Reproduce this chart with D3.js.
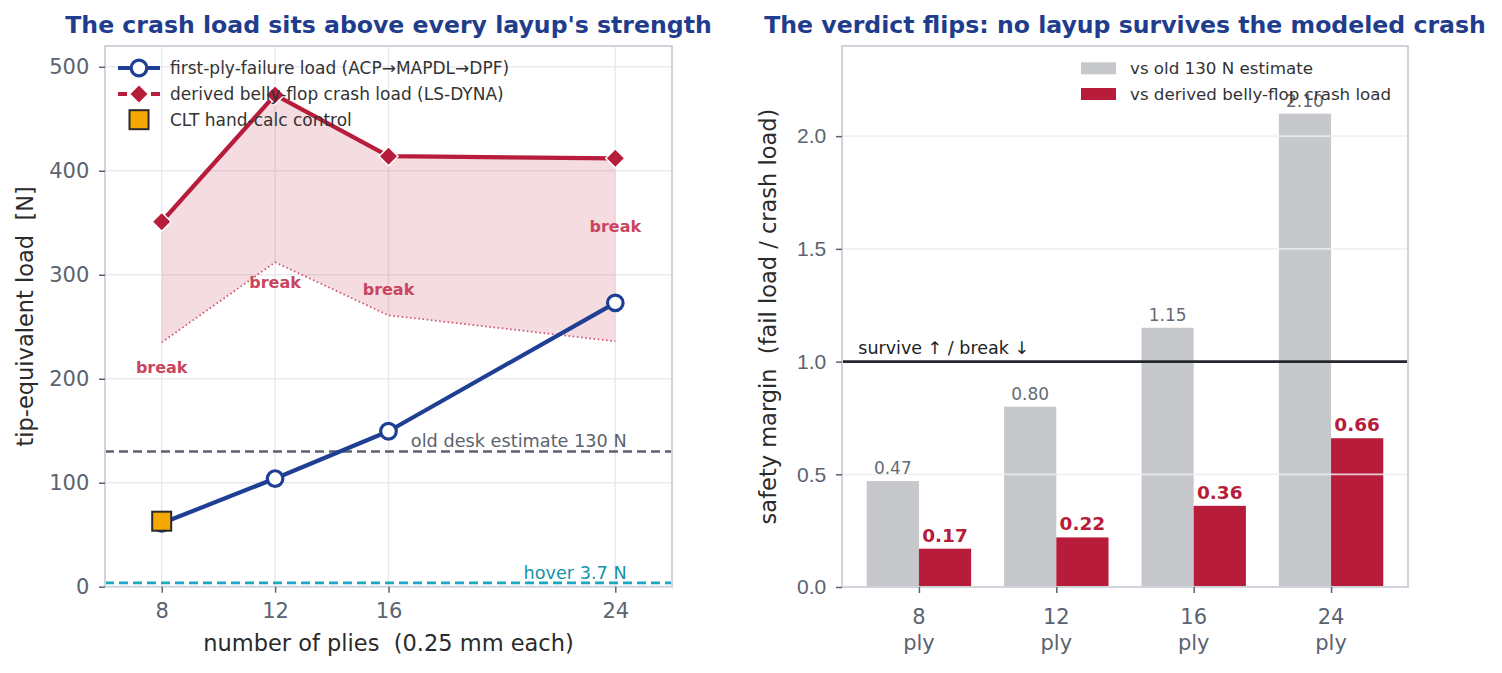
<!DOCTYPE html>
<html><head><meta charset="utf-8">
<script src="https://cdn.jsdelivr.net/npm/d3@7"></script>
<style>
body{margin:0;background:#fff}
svg{display:block;font-family:"DejaVu Sans",sans-serif}
text{white-space:pre}
</style>
</head><body>
<svg id="chart" width="1502" height="673"></svg>
<script>
// ---------- data ----------
const plies = [8, 12, 16, 24];
const fpfLoad = [61, 104, 149.5, 273];          // first-ply-failure load [N]
const crashLoad = [351, 473, 414, 412];         // derived belly-flop crash load [N]
const crashLower = [235, 312, 261, 236];        // lower edge of crash band [N]
const cltPly = [8];
const cltLoad = [63];                           // CLT hand-calc control [N]
const deskEstimate = 130;
const hoverLoad = 3.7;
const leftYTicks = [0, 100, 200, 300, 400, 500];
const leftXTicks = [8, 12, 16, 24];

const layupNames = ["8", "12", "16", "24"];
const marginOld = [0.47, 0.80, 1.15, 2.10];
const marginCrash = [0.17, 0.22, 0.36, 0.66];
const rightYTicks = [0, 0.5, 1.0, 1.5, 2.0];

// ---------- styles ----------
const C = {
  title: "#1f3d8c", blue: "#1f3f95", red: "#b81c3b", breakTxt: "#c8465f",
  dotted: "#d05a74", fill: "rgba(190,40,70,0.16)", grid: "#e8ebee",
  spine: "#d0d4da", tick: "#5b6370", axisLbl: "#2a2a2a", desk: "#5c636e",
  hover: "#1aa7c1", hoverTxt: "#1792ab", orange: "#f5a800", gray: "#c6c8cb",
  grayTxt: "#666b73"
};

const svg = d3.select("#chart");

// ================= LEFT PANEL =================
const L = {x0: 105, x1: 672, y0: 46, y1: 586.7};
const xL = d3.scaleLinear().domain([6, 26]).range([L.x0, L.x1]);
const yL = d3.scaleLinear().domain([0, 520]).range([L.y1, L.y0]);
const gL = svg.append("g");

// grid
gL.selectAll(".vg").data(leftXTicks).join("line")
  .attr("x1", d => xL(d)).attr("x2", d => xL(d)).attr("y1", L.y0).attr("y2", L.y1)
  .attr("stroke", C.grid).attr("stroke-width", 1.5);
gL.selectAll(".hg").data(leftYTicks.filter(d => d > 0)).join("line")
  .attr("x1", L.x0).attr("x2", L.x1).attr("y1", d => yL(d)).attr("y2", d => yL(d))
  .attr("stroke", C.grid).attr("stroke-width", 1.5);

// band fill between lower edge and crash load
const bandData = plies.map((p, i) => ({p, lo: crashLower[i], hi: crashLoad[i]}));
gL.append("path").datum(bandData)
  .attr("d", d3.area().x(d => xL(d.p)).y0(d => yL(d.lo)).y1(d => yL(d.hi)))
  .attr("fill", C.fill);
gL.append("path").datum(bandData)
  .attr("d", d3.line().x(d => xL(d.p)).y(d => yL(d.lo)))
  .attr("fill", "none").attr("stroke", C.dotted).attr("stroke-width", 1.8)
  .attr("stroke-dasharray", "1.6,2.6");

// reference lines
gL.append("line").attr("x1", L.x0).attr("x2", L.x1)
  .attr("y1", yL(deskEstimate)).attr("y2", yL(deskEstimate))
  .attr("stroke", C.desk).attr("stroke-width", 2.6).attr("stroke-dasharray", "9,5");
gL.append("text").attr("x", 626.7).attr("y", yL(deskEstimate) - 5)
  .attr("text-anchor", "end").attr("font-size", 17.7).attr("fill", C.desk)
  .text("old desk estimate " + deskEstimate + " N");
gL.append("line").attr("x1", L.x0).attr("x2", L.x1)
  .attr("y1", yL(hoverLoad)).attr("y2", yL(hoverLoad))
  .attr("stroke", C.hover).attr("stroke-width", 2.6).attr("stroke-dasharray", "9,5");
gL.append("text").attr("x", 626.7).attr("y", yL(hoverLoad) - 3.5)
  .attr("text-anchor", "end").attr("font-size", 17.7).attr("fill", C.hoverTxt)
  .text("hover " + hoverLoad + " N");

// crash load line + diamonds
const crashPts = plies.map((p, i) => ({p, v: crashLoad[i]}));
gL.append("path").datum(crashPts)
  .attr("d", d3.line().x(d => xL(d.p)).y(d => yL(d.v)))
  .attr("fill", "none").attr("stroke", C.red).attr("stroke-width", 4.2)
  .attr("stroke-linejoin", "round");
const diamond = s => `M0,${-s}L${s},0L0,${s}L${-s},0Z`;
gL.selectAll(".dm").data(crashPts).join("path")
  .attr("transform", d => `translate(${xL(d.p)},${yL(d.v)})`)
  .attr("d", diamond(9.5)).attr("fill", C.red).attr("stroke", "#fff").attr("stroke-width", 1.5);

// FPF line + circles
const fpfPts = plies.map((p, i) => ({p, v: fpfLoad[i]}));
gL.append("path").datum(fpfPts)
  .attr("d", d3.line().x(d => xL(d.p)).y(d => yL(d.v)))
  .attr("fill", "none").attr("stroke", C.blue).attr("stroke-width", 4.2)
  .attr("stroke-linejoin", "round");
gL.selectAll(".ci").data(fpfPts).join("circle")
  .attr("cx", d => xL(d.p)).attr("cy", d => yL(d.v)).attr("r", 7.8)
  .attr("fill", "#fff").attr("stroke", C.blue).attr("stroke-width", 3.2);

// CLT control square
gL.selectAll(".sq").data(cltPly.map((p, i) => ({p, v: cltLoad[i]}))).join("rect")
  .attr("x", d => xL(d.p) - 9.5).attr("y", d => yL(d.v) - 9.5)
  .attr("width", 19).attr("height", 19)
  .attr("fill", C.orange).attr("stroke", "#2a2a2a").attr("stroke-width", 2);

// break labels at midpoint between strength and crash load
gL.selectAll(".br").data(plies.map((p, i) => ({p, m: (fpfLoad[i] + crashLoad[i]) / 2}))).join("text")
  .attr("x", d => xL(d.p)).attr("y", d => yL(d.m) + 1)
  .attr("text-anchor", "middle").attr("font-size", 16).attr("font-weight", "bold")
  .attr("fill", C.breakTxt).text("break");

// frame
gL.append("rect").attr("x", L.x0).attr("y", L.y0).attr("width", L.x1 - L.x0).attr("height", L.y1 - L.y0)
  .attr("fill", "none").attr("stroke", C.spine).attr("stroke-width", 2);

// axes
const axL = gL.append("g").attr("transform", `translate(${L.x0},0)`)
  .call(d3.axisLeft(yL).tickValues(leftYTicks).tickSize(6).tickPadding(9.7).tickSizeOuter(0));
const axB = gL.append("g").attr("transform", `translate(0,${L.y1})`)
  .call(d3.axisBottom(xL).tickValues(leftXTicks).tickSize(6).tickPadding(10).tickSizeOuter(0));
[axL, axB].forEach(a => {
  a.select(".domain").remove();
  a.selectAll(".tick line").attr("stroke", C.tick).attr("stroke-width", 1.5);
  a.selectAll(".tick text").attr("fill", C.tick).attr("font-size", 21)
    .attr("font-family", "DejaVu Sans");
});

// axis labels
gL.append("text").attr("transform", `translate(33,${(L.y0 + L.y1) / 2}) rotate(-90)`)
  .attr("text-anchor", "middle").attr("font-size", 22.5).attr("fill", C.axisLbl)
  .text("tip-equivalent load  [N]");
gL.append("text").attr("x", (L.x0 + L.x1) / 2).attr("y", 651)
  .attr("text-anchor", "middle").attr("font-size", 22.5).attr("fill", C.axisLbl)
  .text("number of plies  (0.25 mm each)");

// title
gL.append("text").attr("x", (L.x0 + L.x1) / 2).attr("y", 33)
  .attr("text-anchor", "middle").attr("font-size", 23.6).attr("font-weight", "bold")
  .attr("fill", C.title).text("The crash load sits above every layup's strength");

// legend
const lg = gL.append("g");
const lgRows = [74, 100, 125.7];
lg.append("line").attr("x1", 118).attr("x2", 160).attr("y1", lgRows[0] - 6).attr("y2", lgRows[0] - 6)
  .attr("stroke", C.blue).attr("stroke-width", 4.2);
lg.append("circle").attr("cx", 139).attr("cy", lgRows[0] - 6).attr("r", 7.8)
  .attr("fill", "#fff").attr("stroke", C.blue).attr("stroke-width", 3.2);
lg.append("line").attr("x1", 118).attr("x2", 160).attr("y1", lgRows[1] - 6).attr("y2", lgRows[1] - 6)
  .attr("stroke", C.red).attr("stroke-width", 4.2).attr("stroke-dasharray", "9,24,9");
lg.append("path").attr("transform", `translate(139,${lgRows[1] - 6})`).attr("d", diamond(9.5))
  .attr("fill", C.red).attr("stroke", "#fff").attr("stroke-width", 1.5);
lg.append("rect").attr("x", 129.5).attr("y", lgRows[2] - 6 - 9.5).attr("width", 19).attr("height", 19)
  .attr("fill", C.orange).attr("stroke", "#2a2a2a").attr("stroke-width", 2);
const lgText = ["first-ply-failure load (ACP\u2192MAPDL\u2192DPF)",
                "derived belly-flop crash load (LS-DYNA)", "CLT hand-calc control"];
lg.selectAll(".lt").data(lgText).join("text")
  .attr("x", 170).attr("y", (d, i) => lgRows[i]).attr("font-size", 17).attr("fill", "#333")
  .text(d => d);

// ================= RIGHT PANEL =================
const R = {x0: 842, x1: 1408, y0: 46, y1: 587};
const xR = d3.scaleLinear().domain([-0.56, 3.56]).range([R.x0, R.x1]);
const yR = d3.scaleLinear().domain([0, 2.4]).range([R.y1, R.y0]);
const gR = svg.append("g");
const bw = 0.38;

const idx = layupNames.map((_, i) => i);
gR.selectAll(".bo").data(idx).join("rect")
  .attr("x", i => xR(i - bw)).attr("width", i => xR(i) - xR(i - bw))
  .attr("y", i => yR(marginOld[i])).attr("height", i => yR(0) - yR(marginOld[i]))
  .attr("fill", C.gray);
gR.selectAll(".bc").data(idx).join("rect")
  .attr("x", i => xR(i)).attr("width", i => xR(i + bw) - xR(i))
  .attr("y", i => yR(marginCrash[i])).attr("height", i => yR(0) - yR(marginCrash[i]))
  .attr("fill", C.red);

// grid on top
gR.selectAll(".hg").data(rightYTicks.filter(d => d > 0)).join("line")
  .attr("x1", R.x0).attr("x2", R.x1).attr("y1", d => yR(d)).attr("y2", d => yR(d))
  .attr("stroke", "#eceef1").attr("stroke-opacity", 0.85).attr("stroke-width", 1.8);

// value labels
gR.selectAll(".lo").data(idx).join("text")
  .attr("x", i => xR(i - bw / 2)).attr("y", i => yR(marginOld[i]) - 6.7)
  .attr("text-anchor", "middle").attr("font-size", 17).attr("fill", C.grayTxt)
  .text(i => marginOld[i].toFixed(2));
gR.selectAll(".lc").data(idx).join("text")
  .attr("x", i => xR(i + bw / 2)).attr("y", i => yR(marginCrash[i]) - 7)
  .attr("text-anchor", "middle").attr("font-size", 18.5).attr("font-weight", "bold")
  .attr("fill", C.red).text(i => marginCrash[i].toFixed(2));

// survive/break line
gR.append("line").attr("x1", R.x0).attr("x2", R.x1).attr("y1", yR(1)).attr("y2", yR(1))
  .attr("stroke", "#23262b").attr("stroke-width", 2.6);
gR.append("text").attr("x", 858.3).attr("y", yR(1) - 8)
  .attr("font-size", 17.5).attr("fill", "#222").text("survive \u2191 / break \u2193");

// frame
gR.append("rect").attr("x", R.x0).attr("y", R.y0).attr("width", R.x1 - R.x0).attr("height", R.y1 - R.y0)
  .attr("fill", "none").attr("stroke", C.spine).attr("stroke-width", 2);

// axes
const axRL = gR.append("g").attr("transform", `translate(${R.x0},0)`)
  .call(d3.axisLeft(yR).tickValues(rightYTicks).tickFormat(d3.format(".1f"))
    .tickSize(6).tickPadding(9.7).tickSizeOuter(0));
axRL.select(".domain").remove();
axRL.selectAll(".tick line").attr("stroke", C.tick).attr("stroke-width", 1.5);
axRL.selectAll(".tick text").attr("fill", C.tick).attr("font-size", 21);

const axRB = gR.append("g").attr("transform", `translate(0,${R.y1})`)
  .call(d3.axisBottom(xR).tickValues(idx).tickFormat(() => "").tickSize(6).tickSizeOuter(0));
axRB.select(".domain").remove();
axRB.selectAll(".tick line").attr("stroke", C.tick).attr("stroke-width", 1.5);
axRB.selectAll(".tick text").remove();
const tl = gR.selectAll(".xl").data(idx).join("text")
  .attr("text-anchor", "middle").attr("font-size", 21).attr("fill", C.tick);
tl.append("tspan").attr("x", i => xR(i)).attr("y", 623.5).text(i => layupNames[i]);
tl.append("tspan").attr("x", i => xR(i)).attr("y", 650).text("ply");

gR.append("text").attr("transform", `translate(776,${(R.y0 + R.y1) / 2}) rotate(-90)`)
  .attr("text-anchor", "middle").attr("font-size", 22.5).attr("fill", C.axisLbl)
  .text("safety margin  (fail load / crash load)");

gR.append("text").attr("x", (R.x0 + R.x1) / 2).attr("y", 33)
  .attr("text-anchor", "middle").attr("font-size", 23.6).attr("font-weight", "bold")
  .attr("fill", C.title).text("The verdict flips: no layup survives the modeled crash");

// legend
const rl = gR.append("g");
const rlRows = [68.3, 94];
const rlText = ["vs old 130 N estimate", "vs derived belly-flop crash load"];
const rlCol = [C.gray, C.red];
rl.selectAll("rect").data(rlRows).join("rect")
  .attr("x", 1081).attr("y", d => d - 6).attr("width", 35).attr("height", 12)
  .attr("fill", (d, i) => rlCol[i]);
rl.selectAll("text").data(rlRows).join("text")
  .attr("x", 1130).attr("y", d => d + 6).attr("font-size", 16.7).attr("fill", "#333")
  .text((d, i) => rlText[i]);
</script>
</body></html>
